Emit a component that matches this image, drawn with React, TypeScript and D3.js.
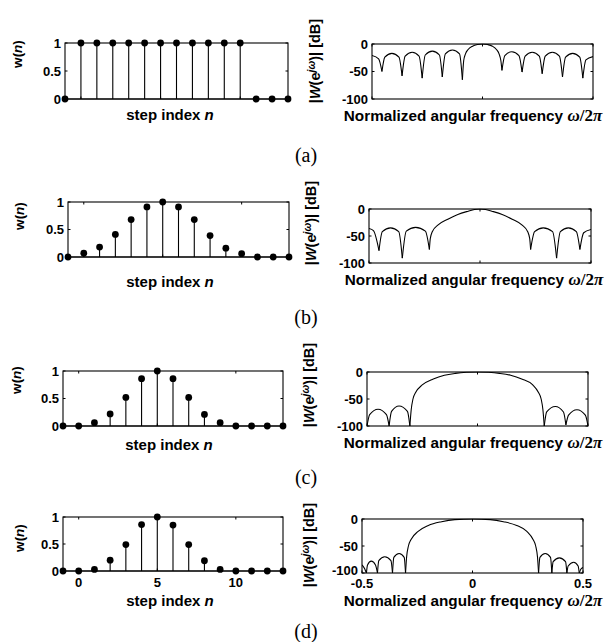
import React from "react";
import * as d3 from "d3";

// Sample index axis shared by all four windows
const stepIndex = [-1, 0, 1, 2, 3, 4, 5, 6, 7, 8, 9, 10, 11, 12, 13];

// Window samples w(n)
const windowA = [0, 1, 1, 1, 1, 1, 1, 1, 1, 1, 1, 1, 0, 0, 0];
const windowB = [0, 0.07, 0.18, 0.41, 0.68, 0.91, 1, 0.91, 0.68, 0.39, 0.16, 0.06, 0, 0, 0];
const windowC = [0, 0, 0.06, 0.22, 0.52, 0.86, 1, 0.86, 0.52, 0.21, 0.06, 0, 0, 0, 0];
const windowD = [0, 0, 0.03, 0.2, 0.49, 0.86, 1, 0.85, 0.49, 0.19, 0.03, 0, 0, 0, 0];

// Magnitude responses [normalized frequency, dB]
const responseA: [number, number][] = [
  [-0.5, -21], [-0.47, -27], [-0.455, -50],
  [-0.442, -24], [-0.41, -17], [-0.378, -24], [-0.364, -58],
  [-0.35, -22], [-0.318, -15], [-0.287, -22], [-0.273, -62],
  [-0.259, -20], [-0.227, -13], [-0.195, -20], [-0.182, -60],
  [-0.168, -18], [-0.136, -11], [-0.104, -18], [-0.091, -65],
  [-0.085, -30], [-0.077, -18], [-0.065, -10], [-0.045, -4], [-0.023, -1], [0, 0],
  [0.023, -1], [0.045, -4], [0.063, -10], [0.075, -18], [0.083, -30], [0.088, -48],
  [0.101, -21], [0.133, -14], [0.165, -21], [0.179, -51],
  [0.193, -22], [0.225, -15], [0.257, -22], [0.27, -54],
  [0.284, -22], [0.316, -15], [0.348, -22], [0.362, -60],
  [0.376, -24], [0.408, -17], [0.44, -24], [0.454, -62],
  [0.468, -29], [0.5, -23],
];

const responseB: [number, number][] = [
  [-0.5, -36], [-0.48, -40], [-0.455, -77],
  [-0.44, -42], [-0.403, -35], [-0.366, -42], [-0.35, -91],
  [-0.332, -41], [-0.29, -34], [-0.246, -41], [-0.228, -75],
  [-0.224, -55], [-0.215, -42], [-0.19, -30], [-0.145, -19], [-0.1, -10], [-0.053, -4],
  [-0.025, -1], [0, 0], [0.025, -1], [0.053, -4], [0.1, -10], [0.145, -19], [0.19, -30],
  [0.215, -42], [0.224, -55], [0.228, -75],
  [0.246, -42], [0.285, -35], [0.327, -42], [0.345, -91],
  [0.362, -42], [0.398, -35], [0.434, -42], [0.45, -75],
  [0.467, -44], [0.5, -38],
];

const responseC: [number, number][] = [
  [-0.5, -100], [-0.488, -79], [-0.45, -69], [-0.412, -79], [-0.4, -100],
  [-0.389, -73], [-0.355, -63], [-0.317, -73], [-0.306, -100],
  [-0.3, -70], [-0.292, -50], [-0.28, -38], [-0.25, -24], [-0.2, -13], [-0.15, -6],
  [-0.1, -2.5], [-0.05, -0.6], [0, 0], [0.05, -0.6], [0.1, -2.5], [0.15, -6], [0.2, -13],
  [0.25, -24], [0.276, -38], [0.288, -50], [0.296, -70], [0.302, -100],
  [0.313, -74], [0.352, -64], [0.389, -74], [0.4, -98],
  [0.412, -80], [0.45, -70], [0.488, -80], [0.5, -100],
];

const responseD: [number, number][] = [
  [-0.5, -85], [-0.488, -92], [-0.48, -100],
  [-0.475, -85], [-0.458, -78], [-0.439, -85], [-0.43, -100],
  [-0.424, -77], [-0.397, -70], [-0.369, -77], [-0.362, -100],
  [-0.356, -71], [-0.332, -64], [-0.309, -71], [-0.303, -100],
  [-0.298, -70], [-0.29, -50], [-0.278, -38], [-0.246, -23], [-0.2, -12], [-0.14, -5],
  [-0.08, -1.2], [0, 0], [0.08, -1.2], [0.14, -5], [0.2, -12], [0.246, -23],
  [0.274, -38], [0.286, -50], [0.294, -70], [0.299, -100],
  [0.305, -71], [0.329, -64], [0.353, -71], [0.359, -100],
  [0.365, -79], [0.393, -72], [0.421, -79], [0.427, -100],
  [0.433, -87], [0.458, -80], [0.478, -87], [0.483, -100],
  [0.49, -93], [0.5, -90],
];

// Axis ticks and labels
const stemYTicks = [0, 0.5, 1];
const stemYTickLabels = ["0", "0.5", "1"];
const stepTicks = [0, 5, 10];
const stepTickLabels = ["0", "5", "10"];
const freqTicks = [-0.5, 0, 0.5];
const freqTickLabels = ["-0.5", "0", "0.5"];
const dbTicks = [-100, -50, 0];
const dbTickLabels = ["-100", "-50", "0"];
const panelLetters = ["(a)", "(b)", "(c)", "(d)"];

type Box = { x0: number; x1: number; y0: number; y1: number };

const rows = [
  {
    win: windowA, resp: responseA,
    left: { x0: 65, x1: 288, y0: 43, y1: 99 }, right: { x0: 372, x1: 593, y0: 44, y1: 99 },
    lyl: { x: 22, y: 54 }, ryl: { x: 320, y: 61 },
    lxl: { x: 170, y: 120 }, rxl: { x: 473, y: 121 }, letterY: 162, ticks: false,
  },
  {
    win: windowB, resp: responseB,
    left: { x0: 68, x1: 289, y0: 202, y1: 257 }, right: { x0: 369, x1: 591, y0: 209, y1: 263 },
    lyl: { x: 24, y: 216 }, ryl: { x: 316, y: 223 },
    lxl: { x: 170, y: 287 }, rxl: { x: 474, y: 285 }, letterY: 324, ticks: false,
  },
  {
    win: windowC, resp: responseC,
    left: { x0: 63, x1: 283, y0: 371, y1: 426 }, right: { x0: 367, x1: 588, y0: 372, y1: 426 },
    lyl: { x: 21, y: 380 }, ryl: { x: 314, y: 385 },
    lxl: { x: 169, y: 450 }, rxl: { x: 473, y: 448 }, letterY: 484, ticks: false,
  },
  {
    win: windowD, resp: responseD,
    left: { x0: 63, x1: 283, y0: 517, y1: 571 }, right: { x0: 362, x1: 583, y0: 519, y1: 573 },
    lyl: { x: 24, y: 538 }, ryl: { x: 314, y: 545 },
    lxl: { x: 170, y: 606 }, rxl: { x: 473, y: 606 }, letterY: 638, ticks: true,
  },
];

const SANS = "'Liberation Sans', Arial, Helvetica, sans-serif";
const SERIF = "'Liberation Serif', 'Times New Roman', serif";
const TICK_FS = 13;
const LABEL_FS = 15;
const TICK_LEN = 2.5;

function StemPanel({ box, values, showX, ylab, xlab }: {
  box: Box; values: number[]; showX: boolean;
  ylab: { x: number; y: number }; xlab: { x: number; y: number };
}) {
  const x = d3.scaleLinear().domain([-1, 13]).range([box.x0, box.x1]);
  const y = d3.scaleLinear().domain([0, 1]).range([box.y1, box.y0]);
  return (
    <g>
      <rect x={box.x0} y={box.y0} width={box.x1 - box.x0} height={box.y1 - box.y0}
        fill="none" stroke="#000" strokeWidth={1.1} />
      {stemYTicks.map((t) => (
        <g key={"yt" + t}>
          <line x1={box.x0} x2={box.x0 + TICK_LEN} y1={y(t)} y2={y(t)} stroke="#000" />
          <line x1={box.x1} x2={box.x1 - TICK_LEN} y1={y(t)} y2={y(t)} stroke="#000" />
        </g>
      ))}
      {stepTicks.map((t) => (
        <g key={"xt" + t}>
          <line x1={x(t)} x2={x(t)} y1={box.y1} y2={box.y1 - TICK_LEN} stroke="#000" />
          <line x1={x(t)} x2={x(t)} y1={box.y0} y2={box.y0 + TICK_LEN} stroke="#000" />
        </g>
      ))}
      {stemYTicks.map((t, i) => (
        <text key={"yl" + t} x={box.x0 - 4} y={y(t)} dy="0.36em" textAnchor="end"
          fontFamily={SANS} fontWeight="bold" fontSize={TICK_FS}>{stemYTickLabels[i]}</text>
      ))}
      {showX && stepTicks.map((t, i) => (
        <text key={"xl" + t} x={x(t)} y={box.y1 + 16} textAnchor="middle"
          fontFamily={SANS} fontWeight="bold" fontSize={TICK_FS}>{stepTickLabels[i]}</text>
      ))}
      {/* stem baseline */}
      <line x1={x(stepIndex[0])} x2={x(stepIndex[stepIndex.length - 1])} y1={y(0)} y2={y(0)}
        stroke="#000" strokeWidth={1.1} />
      {stepIndex.map((n, i) => (
        <g key={"s" + n}>
          <line x1={x(n)} x2={x(n)} y1={y(0)} y2={y(values[i])} stroke="#000" strokeWidth={1.1} />
          <circle cx={x(n)} cy={y(values[i])} r={3.4} fill="#000" />
        </g>
      ))}
      <text transform={`translate(${ylab.x},${ylab.y}) rotate(-90)`} textAnchor="middle"
        fontFamily={SANS} fontWeight="bold" fontSize={13.5}>
        w(<tspan fontStyle="italic">n</tspan>)
      </text>
      <text x={xlab.x} y={xlab.y} textAnchor="middle" fontFamily={SANS} fontWeight="bold"
        fontSize={LABEL_FS}>
        step index <tspan fontStyle="italic">n</tspan>
      </text>
    </g>
  );
}

function splitAtNulls(pts: [number, number][]) {
  const segs: [number, number][][] = [];
  let cur: [number, number][] = [pts[0]];
  for (let i = 1; i < pts.length; i++) {
    cur.push(pts[i]);
    const isNull = i < pts.length - 1 && pts[i][1] < pts[i - 1][1] && pts[i][1] < pts[i + 1][1];
    if (isNull) {
      segs.push(cur);
      cur = [pts[i]];
    }
  }
  segs.push(cur);
  return segs;
}

function ResponsePanel({ box, data, showX, ylab, xlab, id }: {
  box: Box; data: [number, number][]; showX: boolean;
  ylab: { x: number; y: number }; xlab: { x: number; y: number }; id: string;
}) {
  const x = d3.scaleLinear().domain([-0.5, 0.5]).range([box.x0, box.x1]);
  const y = d3.scaleLinear().domain([-100, 0]).range([box.y1, box.y0]);
  const line = d3.line<[number, number]>()
    .x((d) => x(d[0]))
    .y((d) => y(d[1]))
    .curve(d3.curveMonotoneX);
  const segs = splitAtNulls(data);
  return (
    <g>
      <defs>
        <clipPath id={id}>
          <rect x={box.x0} y={box.y0 - 0.6} width={box.x1 - box.x0} height={box.y1 - box.y0 + 1.2} />
        </clipPath>
      </defs>
      <g clipPath={`url(#${id})`}>
        {segs.map((s, i) => (
          <path key={i} d={line(s) || ""} fill="none" stroke="#000" strokeWidth={1.1}
            strokeLinejoin="miter" />
        ))}
      </g>
      <rect x={box.x0} y={box.y0} width={box.x1 - box.x0} height={box.y1 - box.y0}
        fill="none" stroke="#000" strokeWidth={1.1} />
      {dbTicks.map((t) => (
        <g key={"yt" + t}>
          <line x1={box.x0} x2={box.x0 + TICK_LEN} y1={y(t)} y2={y(t)} stroke="#000" />
          <line x1={box.x1} x2={box.x1 - TICK_LEN} y1={y(t)} y2={y(t)} stroke="#000" />
        </g>
      ))}
      {freqTicks.map((t) => (
        <g key={"xt" + t}>
          <line x1={x(t)} x2={x(t)} y1={box.y1} y2={box.y1 - TICK_LEN} stroke="#000" />
          <line x1={x(t)} x2={x(t)} y1={box.y0} y2={box.y0 + TICK_LEN} stroke="#000" />
        </g>
      ))}
      {dbTicks.map((t, i) => (
        <text key={"yl" + t} x={box.x0 - 4} y={t === -100 && showX ? y(t) - 2.5 : y(t)}
          dy="0.36em" textAnchor="end"
          fontFamily={SANS} fontWeight="bold" fontSize={TICK_FS}>{dbTickLabels[i]}</text>
      ))}
      {showX && freqTicks.map((t, i) => (
        <text key={"xl" + t} x={x(t)} y={box.y1 + 15} textAnchor="middle"
          fontFamily={SANS} fontWeight="bold" fontSize={TICK_FS}>{freqTickLabels[i]}</text>
      ))}
      <text transform={`translate(${ylab.x},${ylab.y}) rotate(-90)`} textAnchor="middle"
        fontFamily={SANS} fontWeight="bold" fontSize={14.5}>
        |<tspan fontStyle="italic">W</tspan>(e<tspan dy={-5} fontSize={10.5} fontStyle="italic">jω</tspan>
        <tspan dy={5}>)| [dB]</tspan>
      </text>
      <text x={xlab.x} y={xlab.y} textAnchor="middle" fontFamily={SANS} fontWeight="bold"
        fontSize={15.3}>
        Normalized angular frequency{" "}
        <tspan fontFamily={SERIF} fontStyle="italic" fontSize={17}>ω</tspan>
        <tspan fontFamily={SERIF} fontSize={17}>/2</tspan>
        <tspan fontFamily={SERIF} fontStyle="italic" fontSize={17}>π</tspan>
      </text>
    </g>
  );
}

export default function App() {
  return (
    <svg width={606} height={642} viewBox="0 0 606 642"
      style={{ position: "absolute", left: 0, top: 0, background: "#fff" }}>
      <rect x={0} y={0} width={606} height={642} fill="#fff" />
      {rows.map((r, i) => (
        <g key={i}>
          <StemPanel box={r.left} values={r.win} showX={r.ticks} ylab={r.lyl} xlab={r.lxl} />
          <ResponsePanel box={r.right} data={r.resp} showX={r.ticks} ylab={r.ryl} xlab={r.rxl}
            id={"clip" + i} />
          <text x={306} y={r.letterY} textAnchor="middle" fontFamily={SERIF} fontSize={20}>
            {panelLetters[i]}
          </text>
        </g>
      ))}
    </svg>
  );
}
